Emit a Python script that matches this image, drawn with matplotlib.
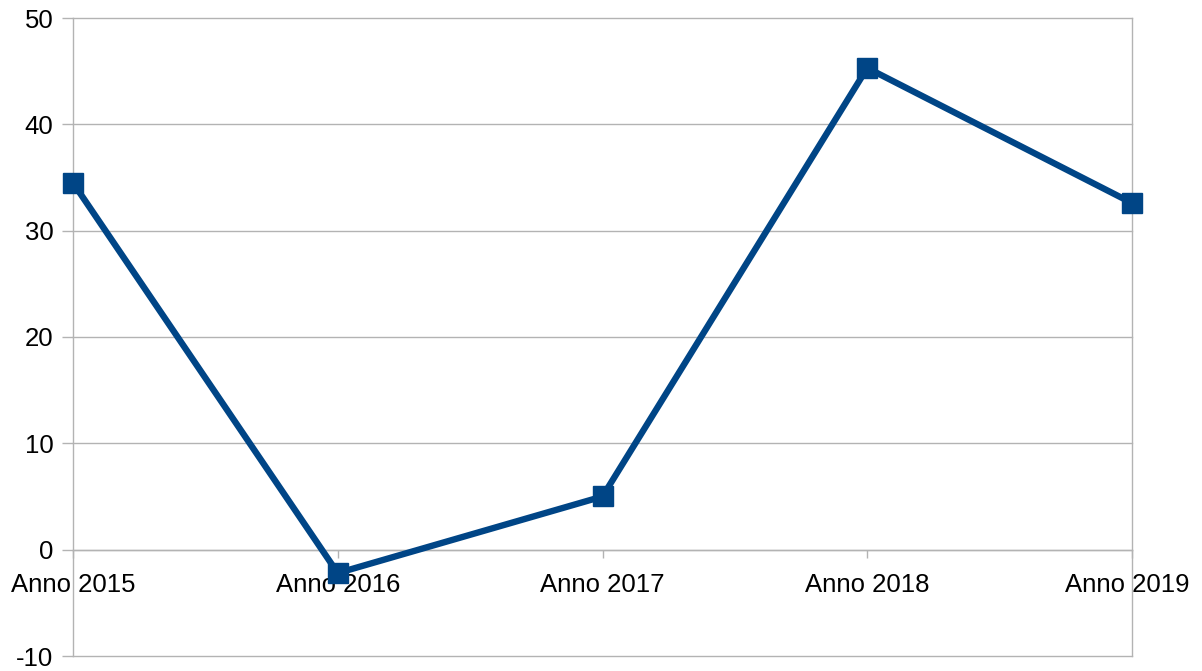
import matplotlib.pyplot as plt
from matplotlib.transforms import ScaledTranslation

plt.rcParams['font.family'] = ['Liberation Sans', 'DejaVu Sans']

# values
years = ["Anno 2015", "Anno 2016", "Anno 2017", "Anno 2018", "Anno 2019"]
values = [34.5, -2.2, 5.0, 45.3, 32.6]
y_ticks = [-10, 0, 10, 20, 30, 40, 50]

grey = "#b3b3b3"
blue = "#004586"

fig = plt.figure(figsize=(12.02, 6.71), dpi=100)
ax = fig.add_axes([73 / 1202, 15 / 671, (1132 - 73) / 1202, (656 - 18) / 671])

x = list(range(len(years)))
ax.plot(x, values, color=blue, linewidth=4.6, marker='s', markersize=14,
        clip_on=False, zorder=5)

ax.set_xlim(0, len(years) - 1)
ax.set_ylim(-10, 50)
ax.set_yticks(y_ticks)
ax.set_yticklabels([str(t) for t in y_ticks])
ax.set_xticks(x)
ax.set_xticklabels(years)

ax.grid(True, axis='y', color=grey, linewidth=1)
for gl in ax.get_ygridlines():
    gl.set_clip_on(False)
ax.set_axisbelow(True)

ax.spines['top'].set_visible(False)
ax.spines['bottom'].set_position(('data', 0))
for s in ['left', 'right', 'bottom']:
    ax.spines[s].set_color(grey)
    ax.spines[s].set_linewidth(1)

ax.tick_params(axis='y', length=8, width=1, color=grey, pad=6,
               labelsize=18.5, labelcolor='black')
ax.tick_params(axis='x', length=6, width=1, color=grey, pad=11,
               labelsize=18.5, labelcolor='black')

# last label is pulled in a bit so it fits the image
last = ax.get_xticklabels()[-1]
last.set_transform(last.get_transform() + ScaledTranslation(-5 / 100, 0, fig.dpi_scale_trans))

fig.savefig("out.png", dpi=100)
